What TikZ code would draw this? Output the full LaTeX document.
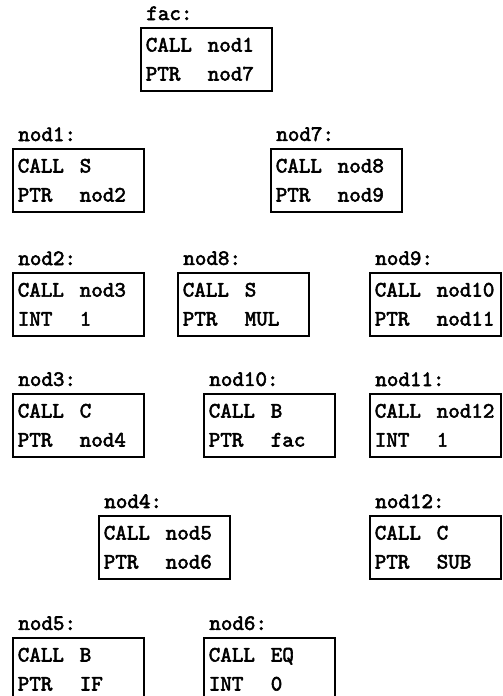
\documentclass[tikz,border=0pt]{standalone}
\usepackage{fontspec}
\setmonofont{lmmono10-regular.otf}[FakeBold=2.5]
\usetikzlibrary{positioning}

% one line of a cell: tag column, then value
\newcommand{\cellrow}[2]{\makebox[1.24cm][l]{#1}#2}

\begin{document}
\begin{tikzpicture}[
    x=0.02cm, y=-0.02cm,
    cell/.style={rectangle, draw, line width=0.9pt, anchor=north west, text width=2.42cm, inner xsep=0.1cm, minimum height=1.26cm, align=left, font=\fontsize{12.5}{16.5}\selectfont\ttfamily},
    namelbl/.style={inner sep=0pt, font=\fontsize{12.5}{15}\selectfont\ttfamily}
]
\useasboundingbox (0,0) rectangle (503,696);

% Top cell
\node[cell] (fac) at (140,27) {\cellrow{CALL}{nod1}\\\cellrow{PTR}{nod7}};

% Second row
\node[cell] (nod1) at (12,148) {\cellrow{CALL}{S}\\\cellrow{PTR}{nod2}};
\node[cell] (nod7) at (270,148) {\cellrow{CALL}{nod8}\\\cellrow{PTR}{nod9}};

% Third row
\node[cell] (nod2) at (12,272) {\cellrow{CALL}{nod3}\\\cellrow{INT}{1}};
\node[cell] (nod8) at (177,272) {\cellrow{CALL}{S}\\\cellrow{PTR}{MUL}};
\node[cell] (nod9) at (369,272) {\cellrow{CALL}{nod10}\\\cellrow{PTR}{nod11}};

% Fourth row
\node[cell] (nod3) at (12,393) {\cellrow{CALL}{C}\\\cellrow{PTR}{nod4}};
\node[cell] (nod10) at (203,393) {\cellrow{CALL}{B}\\\cellrow{PTR}{fac}};
\node[cell] (nod11) at (369,393) {\cellrow{CALL}{nod12}\\\cellrow{INT}{1}};

% Fifth row
\node[cell] (nod4) at (98,515) {\cellrow{CALL}{nod5}\\\cellrow{PTR}{nod6}};
\node[cell] (nod12) at (369,515) {\cellrow{CALL}{C}\\\cellrow{PTR}{SUB}};

% Bottom row
\node[cell] (nod5) at (12,637) {\cellrow{CALL}{B}\\\cellrow{PTR}{IF}};
\node[cell] (nod6) at (203,637) {\cellrow{CALL}{EQ}\\\cellrow{INT}{0}};

% Names above the cells
\foreach \c in {fac,nod1,nod7,nod2,nod8,nod9,nod3,nod10,nod11,nod4,nod12,nod5,nod6}
  \node[namelbl, above=0.13cm of \c.north west, anchor=south west, xshift=0.12cm] (\c-lbl) {\c:};

\end{tikzpicture}
\end{document}
